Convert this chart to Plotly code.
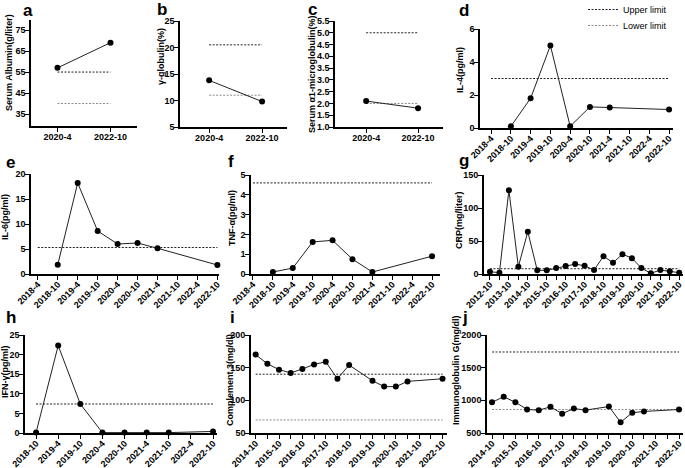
import plotly.graph_objects as go

W, H = 685, 468

# ---------------- data ----------------
cats_2 = ["2020-4", "2022-10"]
albumin = [57, 69]
albumin_upper, albumin_lower = 55, 40
gamma_glob = [13.8, 9.8]
gamma_upper, gamma_lower = 20.5, 11
a1_micro = [2.1, 1.8]
a1_upper, a1_lower = 5.0, 2.0

cats_cyt = ["2018-4", "2018-10", "2019-4", "2019-10", "2020-4", "2020-10",
            "2021-4", "2021-10", "2022-4", "2022-10"]
il4 = [None, 0.1, 1.8, 5.0, 0.1, 1.28, 1.24, None, None, 1.12]
il4_upper = 3.0
il6 = [None, 1.85, 18.2, 8.6, 6.0, 6.2, 5.15, None, None, 1.8]
il6_upper = 5.3
tnf = [None, 0.1, 0.3, 1.62, 1.7, 0.75, 0.1, None, None, 0.9]
tnf_upper = 4.6

cats_crp = ["2012-10", "2013-4", "2013-10", "2014-4", "2014-10", "2015-4", "2015-10",
            "2016-4", "2016-10", "2017-4", "2017-10", "2018-4", "2018-10", "2019-4",
            "2019-10", "2020-4", "2020-10", "2021-4", "2021-10", "2022-4", "2022-10"]
crp_ticklabels = ["2012-10", "", "2013-10", "", "2014-10", "", "2015-10", "", "2016-10", "",
                  "2017-10", "", "2018-10", "", "2019-10", "", "2020-10", "", "2021-10", "",
                  "2022-10"]
crp = [3.5, 2, 127, 11, 64, 5.5, 5.5, 9, 12, 15, 12.5, 6, 27, 17, 30, 24, 9, 1, 6, 4, 2]
crp_upper = 8

cats_ifn = ["2018-10", "2019-4", "2019-10", "2020-4", "2020-10", "2021-4",
            "2021-10", "2022-4", "2022-10"]
ifn = [0.1, 22.3, 7.4, 0.1, 0.1, 0.1, 0.1, None, 0.4]
ifn_upper = 7.4

cats_long = ["2014-10", "2015-4", "2015-10", "2016-4", "2016-10", "2017-4", "2017-10",
             "2018-4", "2018-10", "2019-4", "2019-10", "2020-4", "2020-10", "2021-4",
             "2021-10", "2022-4", "2022-10"]
long_ticklabels = ["2014-10", "", "2015-10", "", "2016-10", "", "2017-10", "", "2018-10", "",
                   "2019-10", "", "2020-10", "", "2021-10", "", "2022-10"]
c3 = [170, 156, 147, 142, 148, 155, 159, 133, 154, None, 130, 121, 121, 129, None, None, 133]
c3_upper, c3_lower = 140, 70
igg = [970, 1055, 970, 860, 850, 900, 795, 875, 850, None, 905, 665, 810, 830, None, None, 860]
igg_upper, igg_lower = 1740, 860

# ---------------- panel geometry (pixels) ----------------
panels = [
    dict(letter="a", title="Serum Albumin(g/liter)", cats=cats_2, ticks=cats_2, y=albumin,
         up=albumin_upper, lo=albumin_lower, px=(31, 137), py=(20, 126), xr=(-0.5, 1.5),
         yr=(29.3, 79.8), yt=[35, 45, 55, 65, 75], fmt="", angle=0, tpos=(9, 63), lpos=(28, 10)),
    dict(letter="b", title="γ-globulin(%)", cats=cats_2, ticks=cats_2, y=gamma_glob,
         up=gamma_upper, lo=gamma_lower, px=(180, 287), py=(21, 127), xr=(-0.55, 1.47),
         yr=(5, 25), yt=[5, 10, 15, 20, 25], fmt="", angle=0, tpos=(161, 57), lpos=(162, 9)),
    dict(letter="c", title="Serum α1-microglobulin(%)", cats=cats_2, ticks=cats_2, y=a1_micro,
         up=a1_upper, lo=a1_lower, px=(335, 443), py=(21, 127), xr=(-0.6, 1.48),
         yr=(1.0, 5.5), yt=[1.0, 1.5, 2.0, 2.5, 3.0, 3.5, 4.0, 4.5, 5.0, 5.5], fmt=".1f",
         angle=0, tpos=(312, 74), lpos=(312, 9)),
    dict(letter="d", title="IL-4(pg/ml)", cats=cats_cyt, ticks=cats_cyt, y=il4,
         up=il4_upper, lo=None, px=(480, 673), py=(29, 128), xr=(-0.56, 9.2),
         yr=(0, 6), yt=[0, 2, 4, 6], fmt="", angle=-45, tpos=(460, 70), lpos=(464, 10)),
    dict(letter="e", title="IL-6(pg/ml)", cats=cats_cyt, ticks=cats_cyt, y=il6,
         up=il6_upper, lo=None, px=(31, 219), py=(174, 274), xr=(-0.34, 9.08),
         yr=(0, 20), yt=[0, 5, 10, 15, 20], fmt="", angle=-45, tpos=(5, 217), lpos=(10, 162)),
    dict(letter="f", title="TNF-α(pg/ml)", cats=cats_cyt, ticks=cats_cyt, y=tnf,
         up=tnf_upper, lo=None, px=(251, 440), py=(175, 274), xr=(-0.1, 9.4),
         yr=(0, 5), yt=[0, 1, 2, 3, 4, 5], fmt="", angle=-45, tpos=(232, 218), lpos=(231, 161)),
    dict(letter="g", title="CRP(mg/liter)", cats=cats_crp, ticks=crp_ticklabels, y=crp,
         up=crp_upper, lo=None, px=(484, 683), py=(175, 274), xr=(-0.63, 20.4),
         yr=(0, 150), yt=[0, 50, 100, 150], fmt="", angle=-45, tpos=(459, 220), lpos=(464, 160)),
    dict(letter="h", title="IFN-γ(pg/ml)", cats=cats_ifn, ticks=cats_ifn, y=ifn,
         up=ifn_upper, lo=None, px=(25, 217), py=(335, 433), xr=(-0.5, 8.18),
         yr=(0, 25), yt=[0, 5, 10, 15, 20, 25], fmt="", angle=-45, tpos=(5, 372), lpos=(11, 317)),
    dict(letter="i", title="Complement 3(mg/dl)", cats=cats_long, ticks=long_ticklabels, y=c3,
         up=c3_upper, lo=c3_lower, px=(251, 447), py=(335, 433), xr=(-0.4, 16.38),
         yr=(50, 200), yt=[50, 100, 150, 200], fmt="", angle=-45, tpos=(230, 380), lpos=(232, 317)),
    dict(letter="j", title="Immunoglobulin G(mg/dl)", cats=cats_long, ticks=long_ticklabels, y=igg,
         up=igg_upper, lo=igg_lower, px=(487, 683), py=(335, 433), xr=(-0.43, 16.34),
         yr=(500, 2000), yt=[500, 1000, 1500, 2000], fmt="", angle=-45, tpos=(456, 371), lpos=(465, 317)),
]

FONT = "Liberation Sans, Arial, sans-serif"
tickfont = dict(family=FONT, size=9, color="black", weight="bold")

fig = go.Figure()
layout = dict(width=W, height=H, margin=dict(l=0, r=0, t=0, b=0, autoexpand=False),
              plot_bgcolor="white", paper_bgcolor="white", showlegend=True)
annotations = []

upper_shown = False
lower_shown = False
for i, p in enumerate(panels, start=1):
    sx = "" if i == 1 else str(i)
    xa, ya = "x" + sx, "y" + sx
    cats = p["cats"]
    # upper limit
    fig.add_trace(go.Scatter(
        x=[cats[0], cats[-1]], y=[p["up"], p["up"]], mode="lines", xaxis=xa, yaxis=ya,
        line=dict(color="#222222", width=1, dash="2px,1.5px"), name="Upper limit",
        showlegend=not upper_shown, legend="legend", hoverinfo="skip"))
    upper_shown = True
    if p["lo"] is not None:
        fig.add_trace(go.Scatter(
            x=[cats[0], cats[-1]], y=[p["lo"], p["lo"]], mode="lines", xaxis=xa, yaxis=ya,
            line=dict(color="#8a8a8a", width=1, dash="2px,1.5px"), name="Lower limit",
            showlegend=not lower_shown, legend="legend2", hoverinfo="skip"))
        lower_shown = True
    # data
    fig.add_trace(go.Scatter(
        x=cats, y=p["y"], mode="lines+markers", xaxis=xa, yaxis=ya, connectgaps=True,
        line=dict(color="#222222", width=1), marker=dict(color="black", size=6),
        cliponaxis=False, showlegend=False))

    x0, x1 = p["px"]
    y0, y1 = p["py"]
    rotated = p["angle"] != 0
    layout["xaxis" + sx] = dict(
        domain=[x0 / W, x1 / W], anchor=ya, type="category", categoryorder="array",
        categoryarray=cats, range=list(p["xr"]), tickmode="array", tickvals=cats,
        ticktext=p["ticks"], tickangle=p["angle"], showline=True, linecolor="black",
        linewidth=1.6, ticks="outside", ticklen=4, tickwidth=1.4, tickcolor="black",
        ticklabelstandoff=-4 if rotated else -3,
        showgrid=False, zeroline=False, tickfont=tickfont, fixedrange=True, automargin=False)
    layout["yaxis" + sx] = dict(
        domain=[1 - y1 / H, 1 - y0 / H], anchor=xa, range=list(p["yr"]), tickmode="array",
        tickvals=p["yt"], tickformat=p["fmt"], showline=True, linecolor="black",
        linewidth=1.6, ticks="outside", ticklen=4, tickwidth=1.4, tickcolor="black",
        ticklabelstandoff=-2,
        showgrid=False, zeroline=False, tickfont=tickfont, fixedrange=True, automargin=False)

    tx, ty = p["tpos"]
    annotations.append(dict(
        text=p["title"], xref="paper", yref="paper", x=tx / W, y=1 - ty / H,
        xanchor="center", yanchor="middle", textangle=-90, showarrow=False,
        font=dict(family=FONT, size=9, color="black", weight="bold")))
    lx, ly = p["lpos"]
    annotations.append(dict(
        text=p["letter"], xref="paper", yref="paper", x=lx / W, y=1 - ly / H,
        xanchor="center", yanchor="middle", showarrow=False, borderpad=0,
        font=dict(family=FONT, size=17, color="black", weight="bold")))

layout["annotations"] = annotations
legend_common = dict(xanchor="left", yanchor="top", bgcolor="rgba(0,0,0,0)", itemwidth=30,
                     font=dict(family=FONT, size=9, color="black"))
layout["legend"] = dict(x=583 / W, y=1 + 5 / H, **legend_common)
layout["legend2"] = dict(x=583 / W, y=1 - 11 / H, **legend_common)
fig.update_layout(**layout)
fig.write_html("out.html", config={"displayModeBar": False},
               post_script="document.body.style.margin='0';document.body.style.padding='0';")
